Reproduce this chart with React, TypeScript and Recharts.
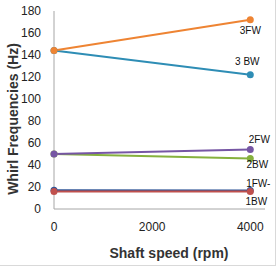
import { LineChart, Line, XAxis, YAxis, LabelList } from "recharts";

// vitesse de rotation (rpm)
const speeds = [0, 4000];
const xTicks = [0, 2000, 4000];
const yTicks = [0, 20, 40, 60, 80, 100, 120, 140, 160, 180];

// fréquences de tourbillon (Hz) pour chaque mode
const fw3 = [144, 172];
const bw3 = [144, 122];
const fw2 = [50, 54];
const bw2 = [50, 46];
const fw1 = [16, 16];
const bw1 = [17, 16.8];

const data = speeds.map((s, i) => ({
  speed: s,
  fw3: fw3[i],
  bw3: bw3[i],
  fw2: fw2[i],
  bw2: bw2[i],
  fw1: fw1[i],
  bw1: bw1[i],
}));

const series = [
  { key: "bw1", name: "1BW", color: "#2F5597", dx: 6, dy: 11 },
  { key: "fw1", name: "1FW-", color: "#C0504D", dx: 8, dy: -8 },
  { key: "bw2", name: "2BW", color: "#86B13D", dx: 7, dy: 6 },
  { key: "fw2", name: "2FW", color: "#7656A4", dx: 9, dy: -10 },
  { key: "bw3", name: "3 BW", color: "#2E8DB5", dx: -3, dy: -13 },
  { key: "fw3", name: "3FW", color: "#EE8433", dx: 0, dy: 11 },
];

const font = "'Liberation Sans', Arial, sans-serif";

export default function App() {
  return (
    <div
      style={{
        position: "absolute",
        left: 0,
        top: 0,
        width: 275,
        height: 265,
        borderRight: "1px solid #d9d9d9",
        borderBottom: "1px solid #d9d9d9",
        background: "#fff",
      }}
    >
      <LineChart
        width={276}
        height={267}
        data={data}
        margin={{ top: 11, right: 11, bottom: 28, left: 0 }}
      >
        <XAxis
          dataKey="speed"
          type="number"
          domain={[0, 4300]}
          ticks={xTicks}
          tickLine={false}
          tickSize={0}
          tickMargin={13}
          height={30}
          axisLine={{ stroke: "#A6A6A6" }}
          tick={{ fill: "#222", fontSize: 12, fontFamily: font }}
          label={{
            content: () => (
              <text
                x={169}
                y={253}
                textAnchor="middle"
                dominantBaseline="central"
                fontFamily={font}
                fontWeight="bold"
                fontSize={14}
                fill="#333"
              >
                Shaft speed (rpm)
              </text>
            ),
          }}
        />
        <YAxis
          type="number"
          domain={[0, 180]}
          ticks={yTicks}
          width={54}
          tickLine={false}
          tickSize={0}
          tickMargin={13}
          axisLine={{ stroke: "#A6A6A6" }}
          tick={{ fill: "#222", fontSize: 12, fontFamily: font }}
          label={{
            content: () => (
              <text
                transform="translate(13,119) rotate(-90)"
                textAnchor="middle"
                dominantBaseline="central"
                fontFamily={font}
                fontWeight="bold"
                fontSize={14}
                fill="#333"
              >
                Whirl Frequencies (Hz)
              </text>
            ),
          }}
        />
        {series.map((s) => (
          <Line
            key={s.key}
            dataKey={s.key}
            stroke={s.color}
            strokeWidth={2}
            dot={{ r: 3.5, fill: s.color, stroke: s.color, strokeWidth: 0 }}
            isAnimationActive={false}
          >
            <LabelList
              dataKey={s.key}
              content={(p: any) =>
                p.index === 1 ? (
                  <text
                    x={p.x + s.dx}
                    y={p.y + s.dy}
                    textAnchor="middle"
                    dominantBaseline="central"
                    fontFamily={font}
                    fontSize={10}
                    fill="#111"
                  >
                    {s.name}
                  </text>
                ) : null
              }
            />
          </Line>
        ))}
      </LineChart>
    </div>
  );
}
